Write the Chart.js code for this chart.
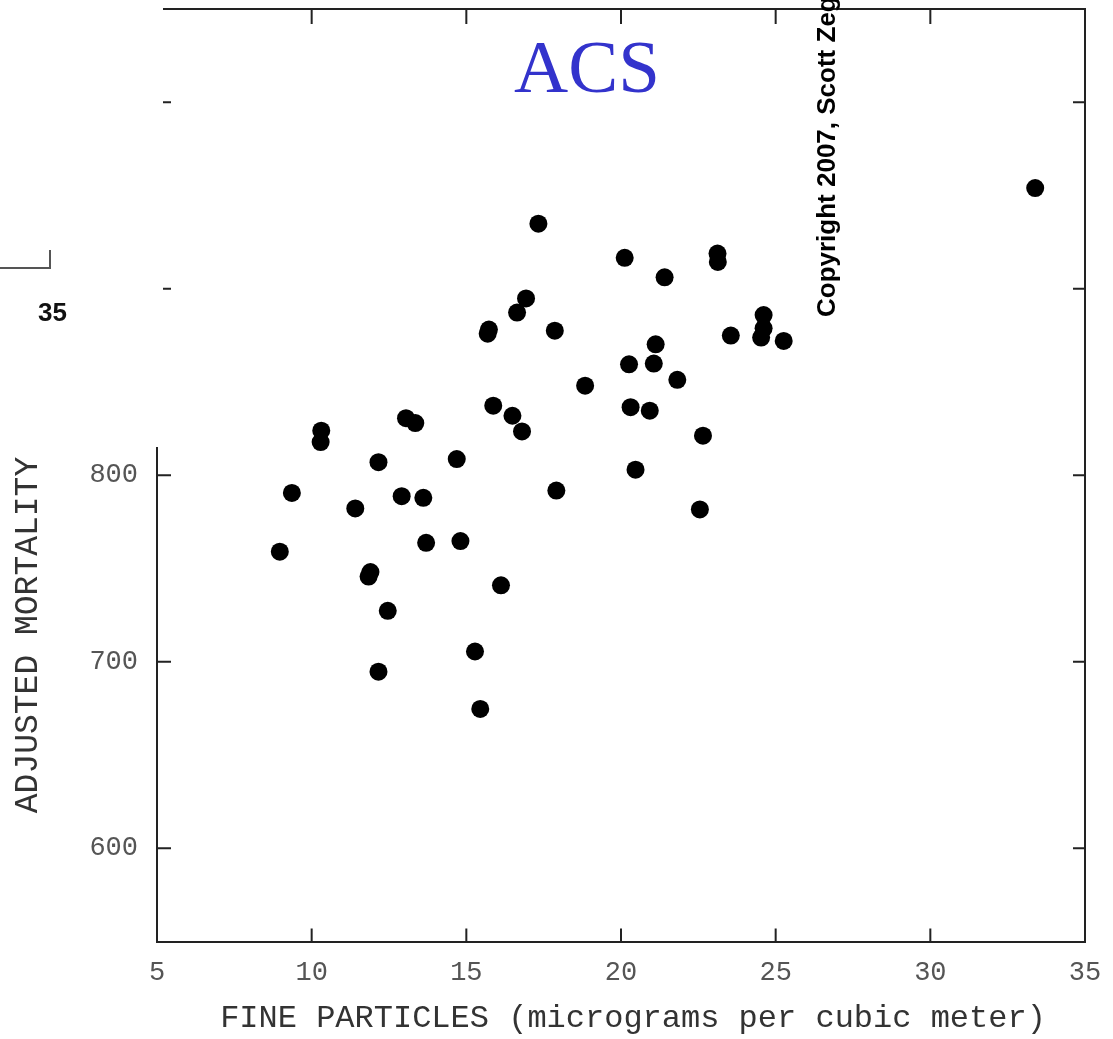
<!DOCTYPE html>
<html>
<head>
<meta charset="utf-8">
<script src="https://cdn.jsdelivr.net/npm/chart.js@4.4.1/dist/chart.umd.min.js"></script>
<style>
  html, body { margin: 0; padding: 0; background: #fff; }
  #wrap { position: relative; width: 1113px; height: 1039px; }
</style>
</head>
<body>
<div id="wrap"><canvas id="chart"></canvas></div>
<script>
// fine particles (micrograms per cubic meter), one value per city
var particles = [
    33.39, 17.33, 20.12, 23.12, 23.13, 21.41, 16.93, 16.64, 15.73, 15.69,
    17.86, 24.61, 24.61, 24.53, 23.55, 25.26, 21.12, 20.26, 21.06, 21.82,
    18.84, 15.87, 20.31, 20.93, 16.49, 13.05, 13.35, 16.80, 10.31, 10.29,
    22.65, 14.69, 12.16, 20.47, 9.36, 17.91, 12.91, 13.61, 11.41, 22.55,
    14.81, 13.70, 8.97, 11.90, 11.84, 16.12, 12.46, 15.28, 12.16, 15.45
];
// adjusted mortality, same order
var mortality = [
    954.0, 934.9, 916.6, 918.9, 914.4, 906.1, 894.8, 887.2, 878.1, 875.9,
    877.5, 885.9, 878.8, 873.8, 874.9, 872.0, 870.2, 859.5, 859.9, 851.2,
    848.0, 837.3, 836.5, 834.6, 831.9, 830.6, 828.0, 823.5, 823.9, 817.8,
    821.2, 808.7, 807.0, 803.0, 790.5, 791.8, 788.8, 787.9, 782.2, 781.7,
    764.7, 763.8, 759.0, 748.1, 745.7, 741.0, 727.3, 705.5, 694.7, 674.7
];
var xTickValues = [5, 10, 15, 20, 25, 30, 35];
var yTickValues = [600, 700, 800, 900, 1000];
var yTickLabels = ["600", "700", "800", "", ""];

var points = [];
for (var i = 0; i < particles.length; i++) {
    points.push({ x: particles[i], y: mortality[i] });
}

var frame = {
    id: "frame",
    afterDraw: function (chart) {
        var ctx = chart.ctx;
        var area = chart.chartArea;
        var xs = chart.scales.x;
        var ys = chart.scales.y;
        ctx.save();
        ctx.strokeStyle = "#222";
        ctx.lineWidth = 2;
        ctx.beginPath();
        ctx.moveTo(area.left, area.top);
        ctx.lineTo(area.right, area.top);
        ctx.lineTo(area.right, area.bottom);
        xs.ticks.forEach(function (t) {
            var px = xs.getPixelForValue(t.value);
            ctx.moveTo(px, area.bottom);
            ctx.lineTo(px, area.bottom - 13);
            ctx.moveTo(px, area.top);
            ctx.lineTo(px, area.top + 15);
        });
        ys.ticks.forEach(function (t) {
            var py = ys.getPixelForValue(t.value);
            ctx.moveTo(area.left, py);
            ctx.lineTo(area.left + 14, py);
            ctx.moveTo(area.right, py);
            ctx.lineTo(area.right - 12, py);
        });
        ctx.stroke();

        // blank patch left by the scan over the upper left axis
        ctx.fillStyle = "#fff";
        ctx.fillRect(0, 0, area.left + 6, 447);

        // stray corner mark and page number from the scan
        ctx.strokeStyle = "#555";
        ctx.lineWidth = 2;
        ctx.beginPath();
        ctx.moveTo(0, 268);
        ctx.lineTo(50, 268);
        ctx.lineTo(50, 250);
        ctx.stroke();
        ctx.fillStyle = "#111";
        ctx.font = "bold 26px 'Liberation Sans'";
        ctx.textAlign = "left";
        ctx.textBaseline = "alphabetic";
        ctx.fillText("35", 38, 321);

        ctx.fillStyle = "#3333cc";
        ctx.font = "75px 'Liberation Serif'";
        ctx.textAlign = "center";
        ctx.fillText("ACS", 587, 92);

        ctx.save();
        ctx.translate(835, 317);
        ctx.rotate(-Math.PI / 2);
        ctx.fillStyle = "#000";
        ctx.font = "bold 26px 'Liberation Sans'";
        ctx.textAlign = "left";
        ctx.fillText("Copyright 2007, Scott Zeger", 0, 0);
        ctx.restore();

        // axis titles
        ctx.fillStyle = "#333";
        ctx.font = "32px 'Liberation Mono'";
        ctx.textAlign = "center";
        ctx.textBaseline = "middle";
        ctx.fillText("FINE PARTICLES (micrograms per cubic meter)", 633, 1019);

        ctx.save();
        ctx.translate(28, 635);
        ctx.rotate(-Math.PI / 2);
        ctx.font = "33px 'Liberation Mono'";
        ctx.fillText("ADJUSTED MORTALITY", 0, 0);
        ctx.restore();
        ctx.restore();
    }
};

var tickFont = { family: "'Liberation Mono', monospace", size: 27 };

var config = {
    type: "scatter",
    data: {
        datasets: [{
            label: "ACS",
            data: points,
            backgroundColor: "#000",
            borderWidth: 0,
            pointRadius: 9,
            pointHoverRadius: 9
        }]
    },
    options: {
        responsive: true,
        maintainAspectRatio: false,
        animation: false,
        layout: {
            padding: { top: 7, right: 28, left: 0, bottom: 0 }
        },
        plugins: {
            legend: { display: false },
            tooltip: { enabled: false }
        },
        scales: {
            x: {
                type: "linear",
                position: "bottom",
                min: 5,
                max: 35,
                afterBuildTicks: function (scale) {
                    scale.ticks = xTickValues.map(function (v) { return { value: v }; });
                },
                afterFit: function (scale) {
                    scale.height = 97.5;
                    scale.paddingLeft = 0;
                    scale.paddingRight = 0;
                },
                ticks: {
                    font: tickFont,
                    color: "#555",
                    padding: 15,
                    maxRotation: 0,
                    autoSkip: false
                },
                grid: { display: false, drawTicks: false },
                border: { display: true, color: "#222", width: 2 }
            },
            y: {
                type: "linear",
                position: "left",
                min: 550,
                max: 1050,
                afterBuildTicks: function (scale) {
                    scale.ticks = yTickValues.map(function (v) { return { value: v }; });
                },
                afterFit: function (scale) {
                    scale.width = 157;
                    scale.paddingTop = 0;
                    scale.paddingBottom = 0;
                },
                ticks: {
                    font: tickFont,
                    color: "#555",
                    padding: 19,
                    callback: function (value) {
                        return yTickLabels[yTickValues.indexOf(value)];
                    }
                },
                grid: { display: false, drawTicks: false },
                border: { display: true, color: "#222", width: 2 }
            }
        }
    },
    plugins: [frame]
};

var chart = new Chart(document.getElementById("chart"), config);
</script>
</body>
</html>
